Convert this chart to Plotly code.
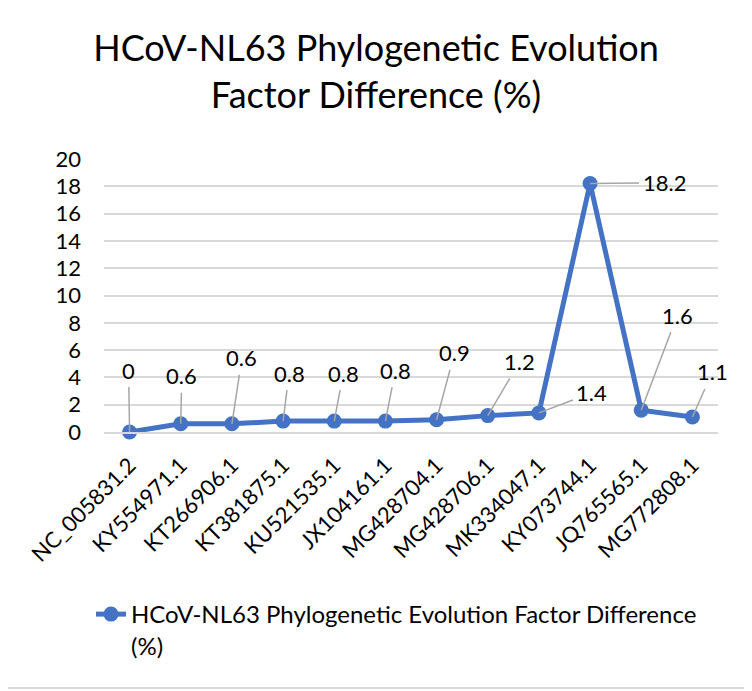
import plotly.graph_objects as go

categories = ["NC_005831.2", "KY554971.1", "KT266906.1", "KT381875.1", "KU521535.1",
              "JX104161.1", "MG428704.1", "MG428706.1", "MK334047.1", "KY073744.1",
              "JQ765565.1", "MG772808.1"]
values = [0, 0.6, 0.6, 0.8, 0.8, 0.8, 0.9, 1.2, 1.4, 18.2, 1.6, 1.1]
value_labels = ["0", "0.6", "0.6", "0.8", "0.8", "0.8", "0.9", "1.2", "1.4", "18.2", "1.6", "1.1"]
series_name = "HCoV-NL63 Phylogenetic Evolution Factor Difference (%)"
y_ticks = [0, 2, 4, 6, 8, 10, 12, 14, 16, 18, 20]

# label offsets (pixels) from each point, like Excel's dragged data labels
label_dx = [-1, 1, 10, 6, 9, 10, 18, 32, 53, 74, 36, 20]
label_dy = [-62, -48, -66, -48, -48, -51, -67, -54, -20, -1, -95, -45]

# the page body adds an 8px margin, so the figure is a little smaller
W, H = 744, 683
ML, MR, MT, MB = 96, 34, 151, 259
FONT = "Lato"
BLUE = "#4472C4"
GRID = "#d9d9d9"

fig = go.Figure()
fig.add_trace(go.Scatter(
    x=categories, y=values, mode="lines+markers",
    name=series_name.replace(" (%)", "<br>(%)"),
    line=dict(color=BLUE, width=5),
    marker=dict(color=BLUE, size=15),
    cliponaxis=False,
    hoverinfo="x+y",
))

for c, v, t, dx, dy in zip(categories, values, value_labels, label_dx, label_dy):
    fig.add_annotation(
        x=c, y=v, text=t, showarrow=True, arrowhead=0, arrowwidth=1.5,
        arrowcolor="#a6a6a6", ax=dx, ay=dy, standoff=0, borderpad=3,
        font=dict(family=FONT, size=22, color="#000000"),
    )

pw = W - ML - MR
ph = H - MT - MB
def px_x(p):
    return (p - ML) / pw
def px_y(p):
    return (H - MB - p) / ph

# outer chart border
fig.add_shape(type="rect", xref="paper", yref="paper",
              x0=px_x(-6.5), x1=px_x(741), y0=px_y(680), y1=px_y(-6.5),
              line=dict(color=GRID, width=2), layer="below")

fig.update_layout(
    width=W, height=H,
    margin=dict(l=ML, r=MR, t=MT, b=MB),
    paper_bgcolor="white", plot_bgcolor="white",
    font=dict(family=FONT, color="#000000"),
    title=dict(text="HCoV-NL63 Phylogenetic Evolution<br>Factor Difference (%)",
               x=368 / W, xanchor="center", y=1 - 53 / H, yanchor="top", yref="container",
               font=dict(family=FONT, size=36, color="#000000")),
    showlegend=True,
    legend=dict(x=px_x(83), y=px_y(584), xanchor="left", yanchor="top",
                font=dict(family=FONT, size=24, color="#000000"),
                valign="top", bgcolor="rgba(0,0,0,0)"),
    xaxis=dict(type="category", range=[-0.5, len(categories) - 0.5],
               tickangle=-45, tickfont=dict(family=FONT, size=22),
               showgrid=False, showline=True, linecolor=GRID, linewidth=1.5,
               ticks="", zeroline=False, fixedrange=True, ticklabelstandoff=10),
    yaxis=dict(range=[0, 20], tickvals=y_ticks, tickfont=dict(family=FONT, size=22),
               showgrid=True, gridcolor=GRID, gridwidth=1.5, zeroline=False,
               showline=False, ticks="", ticklabelstandoff=22, fixedrange=True),
)

fig.write_html("out.html")
